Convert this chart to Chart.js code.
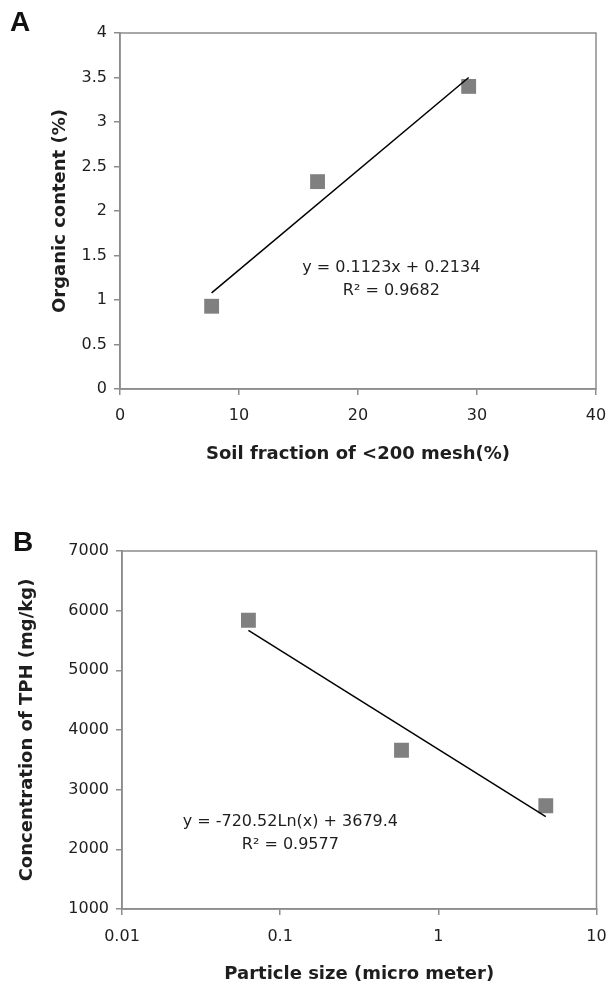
<!DOCTYPE html>
<html>
<head>
<meta charset="utf-8">
<script src="https://cdn.jsdelivr.net/npm/chart.js@4.4.1/dist/chart.umd.min.js"></script>
<style>
html,body{margin:0;padding:0;background:#fff;width:607px;height:988px;overflow:hidden;}
.panel{position:absolute;left:0;width:607px;}
#pa{top:0;height:490px;}
#pb{top:490px;height:498px;}
.lbl{position:absolute;font:bold 28px "Liberation Sans",Arial,sans-serif;color:#111;line-height:1;}
</style>
</head>
<body>
<div class="panel" id="pa"><canvas id="ca" width="607" height="490"></canvas></div>
<div class="panel" id="pb"><canvas id="cb" width="607" height="498"></canvas></div>
<div class="lbl" style="left:10px;top:8px">A</div>
<div class="lbl" style="left:13px;top:528px">B</div>
<script>
// ---------- Panel A data ----------
const soilFractionA = [7.7, 16.6, 29.3];          // % < 200 mesh
const organicContentA = [0.93, 2.33, 3.40];       // %
const trendXA = [7.7, 29.3];
const trendYA = [1.08, 3.50];
const xTicksA = [0, 10, 20, 30, 40];
const yTicksA = [0, 0.5, 1, 1.5, 2, 2.5, 3, 3.5, 4];
const eqA = ['y = 0.1123x + 0.2134', 'R\u00B2 = 0.9682'];

// ---------- Panel B data ----------
const particleSizeB = [0.063, 0.585, 4.78];       // micro meter
const tphB = [5840, 3660, 2730];                  // mg/kg
const trendXB = [0.063, 4.78];
const trendYB = [5670, 2550];
const xTicksB = [0.01, 0.1, 1, 10];
const yTicksB = [1000, 2000, 3000, 4000, 5000, 6000, 7000];
const eqB = ['y = -720.52Ln(x) + 3679.4', 'R\u00B2 = 0.9577'];

const FONT = '"DejaVu Sans", "Liberation Sans", sans-serif';
const GRAY = '#8c8c8c';
const TXT = '#1e1e1e';
const MARK = '#808080';

const boxBorder = {
  id: 'boxBorder',
  beforeDatasetsDraw(chart) {
    const {ctx, chartArea: a} = chart;
    ctx.save();
    ctx.strokeStyle = GRAY;
    ctx.lineWidth = 1.5;
    ctx.strokeRect(a.left, a.top, a.right - a.left, a.bottom - a.top);
    ctx.restore();
  }
};

const eqLabel = {
  id: 'eqLabel',
  afterDatasetsDraw(chart, args, o) {
    if (!o || !o.lines) return;
    const {ctx, scales} = chart;
    const px = scales.x.getPixelForValue(o.x);
    const py = scales.y.getPixelForValue(o.y);
    ctx.save();
    ctx.font = '16px ' + FONT;
    ctx.fillStyle = TXT;
    ctx.textAlign = 'center';
    ctx.textBaseline = 'middle';
    o.lines.forEach((t, i) => ctx.fillText(t, px, py + i * o.gap));
    ctx.restore();
  }
};

function pts(xs, ys) { return xs.map((x, i) => ({x: x, y: ys[i]})); }

function makeChart(id, cfg) {
  return new Chart(document.getElementById(id), {
    type: 'scatter',
    data: {
      datasets: [
        {
          data: pts(cfg.tx, cfg.ty),
          showLine: true,
          borderColor: '#000',
          borderWidth: 1.5,
          pointRadius: 0,
          fill: false
        },
        {
          data: pts(cfg.px, cfg.py),
          showLine: false,
          pointStyle: 'rect',
          pointRadius: 10.5,
          backgroundColor: MARK,
          borderColor: MARK,
          borderWidth: 0
        }
      ]
    },
    options: {
      responsive: false,
      animation: false,
      devicePixelRatio: 1,
      layout: {padding: cfg.pad},
      plugins: {
        legend: {display: false},
        tooltip: {enabled: false},
        eqLabel: cfg.eq
      },
      scales: {
        x: {
          type: cfg.xType,
          min: cfg.xTicks[0],
          max: cfg.xTicks[cfg.xTicks.length - 1],
          afterBuildTicks: s => { s.ticks = cfg.xTicks.map(v => ({value: v})); },
          ticks: {
            font: {family: FONT, size: 16}, color: TXT, padding: cfg.xTickPad,
            maxRotation: 0, autoSkip: false,
            callback: v => String(v)
          },
          grid: {display: true, drawOnChartArea: false, drawTicks: true, tickLength: 6, color: GRAY, lineWidth: 1.5},
          border: {display: true, color: GRAY, width: 1.5},
          title: {
            display: true, text: cfg.xTitle,
            font: {family: FONT, size: 18, weight: 'bold'}, color: TXT,
            padding: {top: 0, bottom: cfg.xTitlePad}
          },
          afterFit: s => { s.height = cfg.xH; s.paddingLeft = 0; s.paddingRight = 0; }
        },
        y: {
          type: 'linear',
          min: cfg.yTicks[0],
          max: cfg.yTicks[cfg.yTicks.length - 1],
          afterBuildTicks: s => { s.ticks = cfg.yTicks.map(v => ({value: v})); },
          ticks: {
            font: {family: FONT, size: 16}, color: TXT, padding: 7,
            autoSkip: false,
            callback: v => String(v)
          },
          grid: {display: true, drawOnChartArea: false, drawTicks: true, tickLength: 6, color: GRAY, lineWidth: 1.5},
          border: {display: true, color: GRAY, width: 1.5},
          title: {
            display: true, text: cfg.yTitle,
            font: {family: FONT, size: 18, weight: 'bold'}, color: TXT,
            padding: {top: cfg.yTitlePad, bottom: 0}
          },
          afterFit: s => { s.width = cfg.yW; s.paddingTop = 0; s.paddingBottom = 0; }
        }
      }
    },
    plugins: [boxBorder, eqLabel]
  });
}

makeChart('ca', {
  tx: trendXA, ty: trendYA, px: soilFractionA, py: organicContentA,
  xType: 'linear', xTicks: xTicksA, yTicks: yTicksA,
  xTitle: 'Soil fraction of <200 mesh(%)', yTitle: 'Organic content (%)',
  pad: {top: 33, right: 11, left: 0, bottom: 0},
  xH: 101, yW: 120, xTitlePad: 25, yTitlePad: 50, xTickPad: 11,
  eq: {x: 22.8, y: 1.36, gap: 23, lines: eqA}
});

makeChart('cb', {
  tx: trendXB, ty: trendYB, px: particleSizeB, py: tphB,
  xType: 'logarithmic', xTicks: xTicksB, yTicks: yTicksB,
  xTitle: 'Particle size (micro meter)', yTitle: 'Concentration of TPH (mg/kg)',
  pad: {top: 61, right: 9, left: 0, bottom: 0},
  xH: 79, yW: 122, xTitlePad: 3, yTitlePad: 17, xTickPad: 12,
  eq: {x: 0.116, y: 2457, gap: 23, lines: eqB}
});
</script>
</body>
</html>
